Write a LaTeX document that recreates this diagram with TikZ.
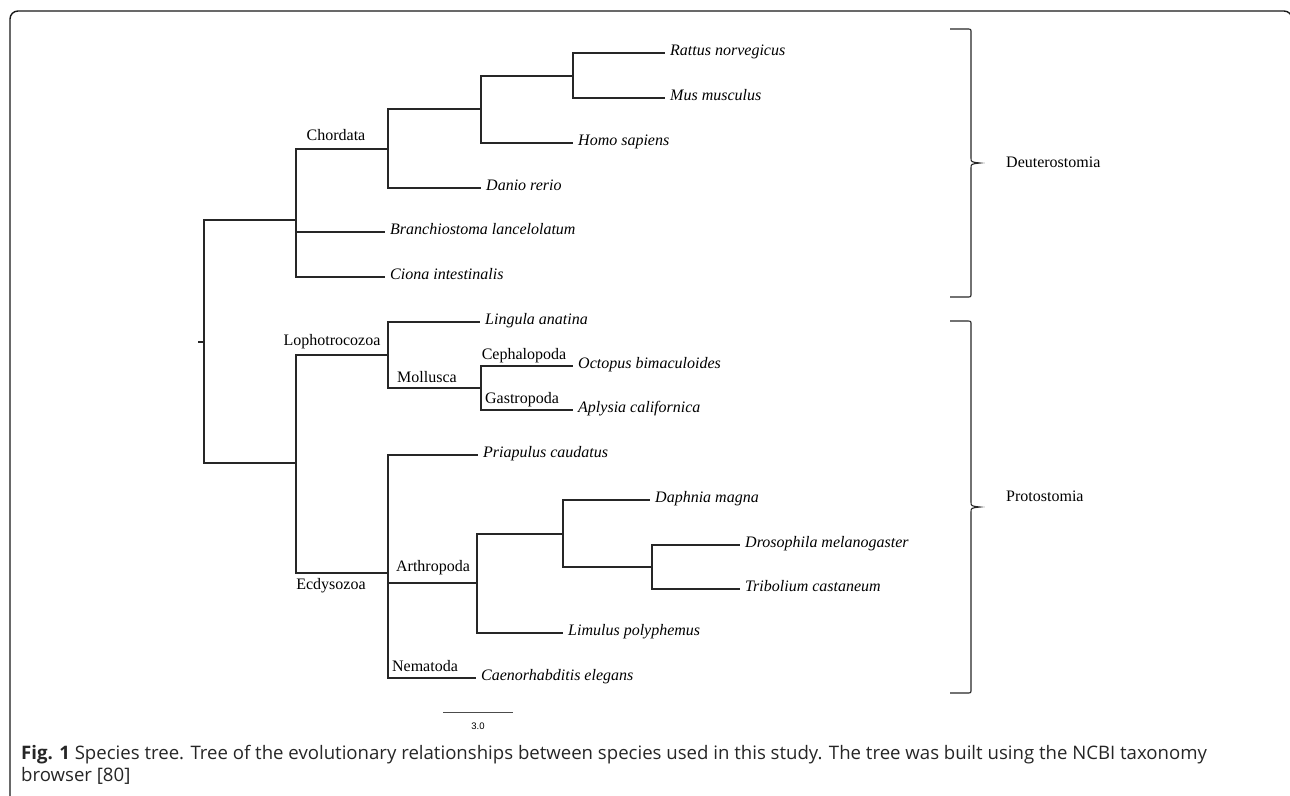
\documentclass[tikz,border=0pt]{standalone}
\usepackage{fontspec}
\setmainfont{Liberation Serif}
\newfontfamily\capfont{Open Sans}
\newfontfamily\barfont{Liberation Sans}
\usetikzlibrary{calc,positioning}
\tikzset{
  branch/.style={draw=black!85,line width=1.3pt},
  leaf/.style={anchor=west,inner xsep=5pt,inner ysep=0pt,font=\fontsize{16}{18}\selectfont\itshape,
    text height=1.45ex,text depth=0.35ex},
  taxon/.style={inner sep=0pt,font=\fontsize{16}{18}\selectfont},
  clade/.style={draw=black!85,line width=1.1pt}
}
% brace on the right: #1 x of the arm, #2 top, #3 tip, #4 bottom
\newcommand{\cladebrace}[4]{%
  \draw[clade] (#1-21,#2) -- (#1-4,#2) .. controls (#1,#2) .. (#1,#2+4)
    -- (#1,#3-5) .. controls (#1,#3-1) .. (#1+9,#3)
    .. controls (#1,#3+1) .. (#1,#3+5)
    -- (#1,#4-4) .. controls (#1,#4) .. (#1-4,#4) -- (#1-21,#4);}

\begin{document}
\begin{tikzpicture}[x=1pt,y=-1pt]
  \useasboundingbox (0,0) rectangle (1290,795);
  \draw[line width=1.4pt,black!90,rounded corners=8pt] (10,800) -- (10,11) -- (1292,11) -- (1292,60);

  % inner nodes
  \coordinate (root) at (204,342);
  \coordinate (chord) at (296,220);
  \coordinate (vert) at (388,149);
  \coordinate (tetra) at (481,109);
  \coordinate (mamm) at (573,76);
  \coordinate (proto) at (296,463);
  \coordinate (loph) at (388,355);
  \coordinate (moll) at (481,388);
  \coordinate (ecdy) at (388,573);
  \coordinate (arth) at (477,583);
  \coordinate (pancr) at (563,534);
  \coordinate (insect) at (652,567);

  % leaves
  \node[leaf] (rat) at (665,53) {Rattus norvegicus};
  \node[leaf] (mus) at (665,98) {Mus musculus};
  \node[leaf] (homo) at (573,143) {Homo sapiens};
  \node[leaf] (danio) at (481,188) {Danio rerio};
  \node[leaf] (bran) at (385,232) {Branchiostoma lancelolatum};
  \node[leaf] (ciona) at (385,277) {Ciona intestinalis};
  \node[leaf] (ling) at (480,322) {Lingula anatina};
  \node[leaf] (octo) at (573,366) {Octopus bimaculoides};
  \node[leaf] (aply) at (573,410) {Aplysia californica};
  \node[leaf] (pria) at (478,455) {Priapulus caudatus};
  \node[leaf] (daph) at (650,500) {Daphnia magna};
  \node[leaf] (dros) at (740,545) {Drosophila melanogaster};
  \node[leaf] (trib) at (740,589) {Tribolium castaneum};
  \node[leaf] (limu) at (563,633) {Limulus polyphemus};
  \node[leaf] (caen) at (476,678) {Caenorhabditis elegans};

  % branches
  \draw[branch] (root) -- ++(-6,0);
  \draw[branch] (root) |- (chord);
  \draw[branch] (root) |- (proto);
  \draw[branch] (chord) |- (vert);
  \draw[branch] (chord) |- (bran.west);
  \draw[branch] (chord) |- (ciona.west);
  \draw[branch] (vert) |- (tetra);
  \draw[branch] (vert) |- (danio.west);
  \draw[branch] (tetra) |- (mamm);
  \draw[branch] (tetra) |- (homo.west);
  \draw[branch] (mamm) |- (rat.west);
  \draw[branch] (mamm) |- (mus.west);
  \draw[branch] (proto) |- (loph);
  \draw[branch] (proto) |- (ecdy);
  \draw[branch] (loph) |- (ling.west);
  \draw[branch] (loph) |- (moll);
  \draw[branch] (moll) |- (octo.west);
  \draw[branch] (moll) |- (aply.west);
  \draw[branch] (ecdy) |- (pria.west);
  \draw[branch] (ecdy) |- (arth);
  \draw[branch] (ecdy) |- (caen.west);
  \draw[branch] (arth) |- (pancr);
  \draw[branch] (arth) |- (limu.west);
  \draw[branch] (pancr) |- (daph.west);
  \draw[branch] (pancr) |- (insect);
  \draw[branch] (insect) |- (dros.west);
  \draw[branch] (insect) |- (trib.west);

  % clade names
  \node[taxon] (lchord) at (336,135) {Chordata};
  \node[taxon] (lloph) at (332,342) {Lophotrocozoa};
  \node[taxon] (lmoll) at (427,377) {Mollusca};
  \node[taxon] (lceph) at (524,356) {Cephalopoda};
  \node[taxon] (lgast) at (522,400) {Gastropoda};
  \node[taxon] (lecdy) at (331,586) {Ecdysozoa};
  \node[taxon] (larth) at (433,568) {Arthropoda};
  \node[taxon] (lnema) at (425,666) {Nematoda};

  % braces
  \cladebrace{971}{29}{163}{297}
  \cladebrace{971}{321}{507}{693}
  \node[taxon,anchor=west] (ldeut) at (1006,162) {Deuterostomia};
  \node[taxon,anchor=west] (lprot) at (1006,496) {Protostomia};

  % scale bar
  \coordinate (sbl) at (443,712);
  \coordinate (sbr) at (513,712);
  \draw[line width=1pt,black!70] (sbl) -- (sbr);
  \node[inner sep=0pt,font=\barfont\fontsize{9.5}{10}\selectfont] (sblab) at (478,726) {3.0};

  % caption
  \node[anchor=base west,inner sep=0pt,align=left,font=\capfont\fontsize{18.6}{21.5}\selectfont,black!85] (cap) at (21,781)
    {\textbf{Fig. 1} Species tree. Tree of the evolutionary relationships between species used in this study. The tree was built using the NCBI taxonomy\\browser [80]};
\end{tikzpicture}
\end{document}
